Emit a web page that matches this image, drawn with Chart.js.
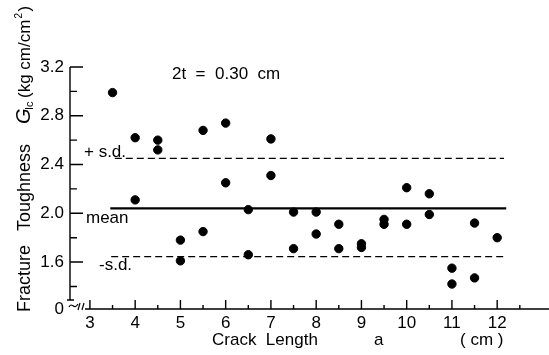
<!DOCTYPE html>
<html>
<head>
<meta charset="utf-8">
<script src="https://cdn.jsdelivr.net/npm/chart.js@4.4.1/dist/chart.umd.min.js"></script>
<style>
  body { margin: 0; background: #fff; }
</style>
</head>
<body>
<canvas id="myChart" width="549" height="355"></canvas>
<script>
// measured points, crack length (cm) vs fracture toughness
const crackLength = [3.5, 4, 4, 4.5, 4.5, 5, 5, 5.5, 5.5, 6, 6, 6.5, 6.5, 7, 7,
    7.5, 7.5, 8, 8, 8.5, 8.5, 9, 9, 9.5, 9.5, 10, 10, 10.5, 10.5, 11, 11, 11.5, 11.5, 12]
const toughness = [2.99, 2.62, 2.11, 2.60, 2.52, 1.78, 1.61, 1.85, 2.68, 2.74, 2.25, 2.03, 1.66, 2.61, 2.31,
    2.01, 1.71, 2.01, 1.83, 1.91, 1.71, 1.75, 1.72, 1.95, 1.91, 2.21, 1.91, 2.16, 1.99, 1.55, 1.42, 1.92, 1.47, 1.80]

// mean and +/- standard deviation lines
const refNames = ['+s.d.', 'mean', '-s.d.']
const refValues = [2.45, 2.04, 1.645]
const refFrom = [3.55, 3.45, 3.47]
const refTo = [12.15, 12.2, 12.2]

const xTicks = [3, 4, 5, 6, 7, 8, 9, 10, 11, 12]
const xMinorTicks = [3.5, 4.5, 5.5, 6.5, 7.5, 8.5, 9.5, 10.5, 11.5, 12.5]
const yTicks = [1.6, 2.0, 2.4, 2.8, 3.2]
const yMinorTicks = [1.4, 1.8, 2.2, 2.6, 3.0]
const yMin = 1.215

const FONT = '"Liberation Sans", Arial, sans-serif'

const refDatasets = refNames.map((name, i) => ({
    type: 'line',
    label: name,
    data: [{x: refFrom[i], y: refValues[i]}, {x: refTo[i], y: refValues[i]}],
    borderColor: 'black',
    borderWidth: name === 'mean' ? 2.2 : 1.3,
    borderDash: name === 'mean' ? [] : [7, 4],
    pointRadius: 0,
    fill: false,
}))

const axisPlugin = {
    id: 'axisPlugin',
    afterDraw(chart) {
        const ctx = chart.ctx
        const xs = chart.scales.x
        const ys = chart.scales.y
        const left = chart.chartArea.left
        const bottom = chart.chartArea.bottom
        ctx.save()
        ctx.strokeStyle = 'black'
        ctx.fillStyle = 'black'
        ctx.lineWidth = 1.4

        // axis lines with the break near the origin
        ctx.beginPath()
        ctx.moveTo(left, chart.chartArea.top)
        ctx.lineTo(left, bottom - 9)
        ctx.moveTo(left - 3, bottom - 9)
        ctx.lineTo(left + 4, bottom - 9)
        ctx.moveTo(85, bottom)
        ctx.lineTo(chart.width, bottom)
        ctx.stroke()
        ctx.lineWidth = 1.2
        ctx.beginPath()
        ctx.moveTo(left - 1, bottom - 2)
        ctx.bezierCurveTo(left + 2, bottom - 8, left + 4, bottom + 2, left + 8, bottom - 5)
        ctx.moveTo(78, bottom + 1)
        ctx.lineTo(80, bottom - 6)
        ctx.moveTo(82, bottom + 1)
        ctx.lineTo(84, bottom - 6)
        ctx.stroke()

        // inward ticks
        ctx.lineWidth = 1.4
        ctx.beginPath()
        yTicks.forEach(v => {
            const p = ys.getPixelForValue(v)
            ctx.moveTo(left, p); ctx.lineTo(left + 13, p)
        })
        yMinorTicks.forEach(v => {
            const p = ys.getPixelForValue(v)
            ctx.moveTo(left, p); ctx.lineTo(left + 7, p)
        })
        xTicks.forEach(v => {
            const p = xs.getPixelForValue(v)
            ctx.moveTo(p, bottom); ctx.lineTo(p, bottom - 9)
        })
        xMinorTicks.forEach(v => {
            const p = xs.getPixelForValue(v)
            ctx.moveTo(p, bottom); ctx.lineTo(p, bottom - 4)
        })
        ctx.stroke()

        // labels inside the plot
        ctx.font = '17px ' + FONT
        ctx.textBaseline = 'middle'
        ctx.textAlign = 'left'
        ctx.fillText('2t  =  0.30  cm', 172, 74)
        ctx.fillText('+ s.d.', 84, 152)
        ctx.fillText('mean', 86, 218)
        ctx.fillText('-s.d.', 99, 265)

        // x axis title
        ctx.fillText('Crack  Length', 212, 340)
        ctx.fillText('a', 374, 340)
        ctx.fillText('( cm )', 460, 340)

        // y axis title, rotated
        ctx.translate(25, 0)
        ctx.rotate(-Math.PI / 2)
        ctx.font = '18px ' + FONT
        ctx.fillText('Fracture', -312, 0)
        ctx.fillText('Toughness', -231, 0)
        ctx.font = 'italic 20px ' + FONT
        ctx.fillText('G', -124, -1)
        ctx.font = '11px ' + FONT
        ctx.fillText('Ic', -110, 5)
        ctx.font = '17px ' + FONT
        ctx.fillText('(kg cm/cm', -98, 0)
        const w = ctx.measureText('(kg cm/cm').width
        ctx.font = '10px ' + FONT
        ctx.fillText('2', -98 + w + 1, -6)
        ctx.font = '17px ' + FONT
        ctx.fillText(')', -98 + w + 8, 0)
        ctx.restore()
    }
}

const ctx = document.getElementById('myChart').getContext('2d')
const chart = new Chart(ctx, {
    type: 'scatter',
    data: {
        datasets: [{
            label: 'Gc',
            data: crackLength.map((x, i) => ({x: x, y: toughness[i]})),
            backgroundColor: 'black',
            borderColor: 'black',
            pointRadius: 4.2,
            pointHoverRadius: 4.2,
        }, ...refDatasets],
    },
    options: {
        responsive: false,
        animation: false,
        layout: { padding: { top: 67, left: 0, right: 0, bottom: 0 } },
        plugins: {
            legend: { display: false },
            tooltip: { enabled: false },
        },
        scales: {
            x: {
                type: 'linear',
                min: 2.56,
                max: 13.03,
                grid: { display: false, drawTicks: false },
                border: { display: false },
                afterBuildTicks: scale => { scale.ticks = xTicks.map(v => ({value: v})) },
                afterFit: scale => { scale.height = 46 },
                ticks: {
                    color: 'black',
                    font: { family: FONT, size: 17 },
                    padding: 4,
                    maxRotation: 0,
                },
            },
            y: {
                min: yMin,
                max: 3.2,
                grid: { display: false, drawTicks: false },
                border: { display: false },
                afterBuildTicks: scale => { scale.ticks = [yMin, ...yTicks].map(v => ({value: v})) },
                afterFit: scale => { scale.width = 70 },
                ticks: {
                    color: 'black',
                    font: { family: FONT, size: 17 },
                    padding: 6,
                    callback: v => v < 1.3 ? '0' : v.toFixed(1),
                },
            },
        },
    },
    plugins: [axisPlugin],
})
</script>
</body>
</html>
